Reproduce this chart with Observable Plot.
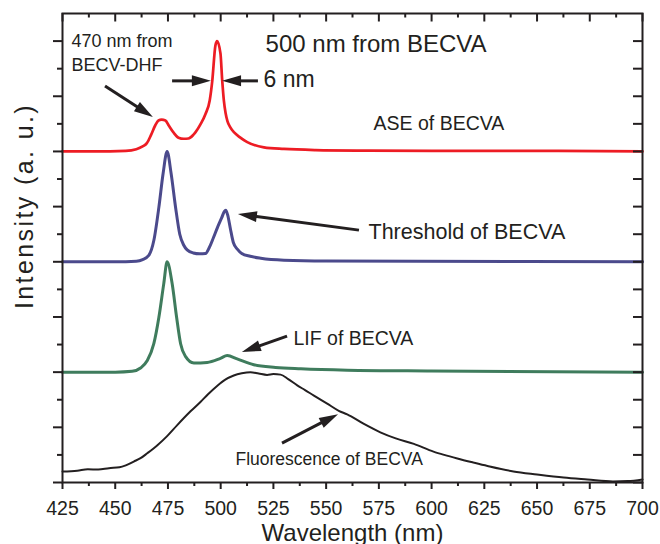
<!DOCTYPE html>
<html><head><meta charset="utf-8">
<script src="https://cdn.jsdelivr.net/npm/d3@7"></script>
<script src="https://cdn.jsdelivr.net/npm/@observablehq/plot@0.6"></script>
<style>body{margin:0;background:#fff;}</style>
</head><body><div id="chart"></div>
<script>
// ---- data (wavelength in nm, intensity in offset arbitrary units) ----
const aseWl = [425,440,455,460,463,465,467,469,470.5,472,473.8,475.3,477.6,480,482.5,484.7,487,488.1,490.4,492.8,494.8,496,497.5,498.3,499.9,500.7,501.5,502.3,503.2,504.5,506.5,509,512.6,520.5,530,545,570,600,650,700];
const aseI  = [12.0,12.0,12.02,12.08,12.18,12.3,12.6,12.95,13.12,13.15,13.12,12.95,12.69,12.5,12.46,12.47,12.6,12.7,12.98,13.36,13.85,14.55,15.84,16.0,15.55,14.6,13.85,13.4,13.1,12.88,12.68,12.52,12.34,12.15,12.09,12.05,12.03,12.02,12.02,12.0];

const thrWl = [425,450,460,463,465.9,468.3,470.7,472.7,474.6,476.5,478.6,480.6,482.5,484.1,487,490,492.8,494.5,496.6,498.5,500.5,501.7,502.4,503.3,504.6,506,508,510,514,519,530,550,700];
const thrI  = [8.0,8.0,8.02,8.08,8.23,8.77,9.98,11.2,12.0,11.2,9.98,9.0,8.6,8.43,8.32,8.29,8.3,8.5,8.88,9.25,9.6,9.82,9.87,9.7,9.2,8.7,8.45,8.3,8.2,8.13,8.06,8.03,8.0];

const lifWl = [425,450,458,462,465.2,468.3,470.7,473,474.6,477,479.1,481,483.3,487.3,493.6,499.9,503.1,507.8,515.7,526,538,560,600,700];
const lifI  = [4.0,4.0,4.03,4.15,4.42,5.03,5.99,7.2,8.0,7.2,5.99,5.03,4.57,4.33,4.35,4.5,4.6,4.48,4.27,4.17,4.12,4.07,4.04,4.0];

const fluWl = [425,432,437,442,447,452,455,458.8,462,465.2,470,474.6,479.4,485.7,490.4,494,498.3,502,506.2,510,514.1,518,522,525,528.4,532,536.3,540,544.2,550.5,556,560,567.7,575.7,583,591.6,600.9,606,612.2,620,626.5,638.8,650,662.6,673.9,686,693,700];
const fluI  = [0.4,0.43,0.48,0.47,0.52,0.55,0.62,0.76,0.88,1.06,1.35,1.68,2.08,2.58,2.92,3.2,3.5,3.72,3.88,3.96,4.0,3.95,3.9,3.93,3.91,3.75,3.52,3.35,3.15,2.86,2.6,2.47,2.13,1.82,1.6,1.4,1.12,1.0,0.87,0.72,0.6,0.4,0.29,0.18,0.11,0.04,0.05,0.11];

const xTicks = [425,450,475,500,525,550,575,600,625,650,675,700];
const xMinor = [437.5,462.5,487.5,512.5,537.5,562.5,587.5,612.5,637.5,662.5,687.5];
const yMajor = [0,2,4,6,8,10,12,14,16];
const yMinor = [1,3,5,7,9,11,13,15];
const yAll = [0,1,2,3,4,5,6,7,8,9,10,11,12,13,14,15,16];

const noteText = ["470 nm from","BECV-DHF","500 nm from BECVA","6 nm","ASE of BECVA","Threshold of BECVA","LIF of BECVA","Fluorescence of BECVA"];
const noteWl   = [429.3,429.3,521.3,520.3,572.5,570.1,534.5,507.0];
const noteVal  = [15.77,14.93,15.59,14.32,12.76,8.84,5.0,0.62];

const arrowWl1  = [445.4,477.2,517.9,565.8,531.7,529.3];
const arrowVal1 = [14.35,14.54,14.54,9.13,5.29,1.41];
const arrowWl2  = [468.1,495.6,500.9,508.4,510.3,555.9];
const arrowVal2 = [13.23,14.54,14.54,9.71,4.71,2.46];

const xLabel = "Wavelength (nm)";
const yLabel = "Intensity (a. u.)";

// ---- build ----
const ink = "#231f20";
const font = "'Liberation Sans', Arial, Helvetica, sans-serif";
const pts = (wl, v) => wl.map((w, i) => ({wl: w, v: v[i]}));
const notes = noteText.map((t, i) => ({t, wl: noteWl[i], v: noteVal[i]}));
const noteSizes = [18, 18, 24, 23, 19.5, 21.5, 19.5, 17.5];
const arrows = arrowWl1.map((w, i) => ({x1: w, y1: arrowVal1[i], x2: arrowWl2[i], y2: arrowVal2[i]}));

const W = 660, H = 544, mL = 62, mR = 18, mT = 13, mB = 62;
const innerW = W - mL - mR, innerH = H - mT - mB;

const arrowMark = (index, scales) => {
  const g = d3.create("svg:g");
  for (const a of arrows) {
    const x1 = scales.x(a.x1), y1 = scales.y(a.y1), x2 = scales.x(a.x2), y2 = scales.y(a.y2);
    const ang = Math.atan2(y2 - y1, x2 - x1), L = 19, hw = 5.5;
    const c = Math.cos(ang), s = Math.sin(ang);
    const bx = x2 - L * c, by = y2 - L * s;
    g.append("line").attr("x1", x1).attr("y1", y1).attr("x2", bx + 2 * c).attr("y2", by + 2 * s)
      .attr("stroke", ink).attr("stroke-width", 3);
    g.append("path").attr("d", `M${x2},${y2}L${bx - hw * s},${by + hw * c}L${bx + hw * s},${by - hw * c}Z`)
      .attr("fill", ink);
  }
  return g.node();
};

const chart = Plot.plot({
  width: W, height: H,
  marginLeft: mL, marginRight: mR, marginTop: mT, marginBottom: mB,
  style: {fontFamily: font, background: "#fff", color: ink, overflow: "visible"},
  x: {domain: [425, 700]},
  y: {domain: [0, 17]},
  marks: [
    Plot.line(pts(fluWl, fluI), {x: "wl", y: "v", stroke: ink, strokeWidth: 2, curve: "monotone-x"}),
    Plot.line(pts(lifWl, lifI), {x: "wl", y: "v", stroke: "#3f7c5d", strokeWidth: 3, curve: "monotone-x"}),
    Plot.line(pts(thrWl, thrI), {x: "wl", y: "v", stroke: "#4b4a8c", strokeWidth: 3, curve: "monotone-x"}),
    Plot.line(pts(aseWl, aseI), {x: "wl", y: "v", stroke: "#ed1c24", strokeWidth: 2.7, curve: "monotone-x"}),
    Plot.axisX({ticks: xTicks, tickSize: 7, tickPadding: 12, fontSize: 19.5, strokeWidth: 2, label: null, tickFormat: d => String(d), fill: ink}),
    Plot.axisX({ticks: xMinor, tickSize: 4, strokeWidth: 2, label: null, tickFormat: () => ""}),
    Plot.axisY({ticks: yMajor, tickSize: 9, strokeWidth: 2, label: null, tickFormat: () => ""}),
    Plot.axisY({ticks: yMinor, tickSize: 5, strokeWidth: 2, label: null, tickFormat: () => ""}),
    Plot.tickX(xTicks, {x: d => d, stroke: ink, strokeWidth: 2, insetBottom: innerH - 8.5}),
    Plot.tickX(xMinor, {x: d => d, stroke: ink, strokeWidth: 2, insetBottom: innerH - 4.5}),
    Plot.tickY(yAll, {y: d => d, stroke: ink, strokeWidth: 2, insetLeft: innerW - 9}),
    Plot.frame({stroke: ink, strokeWidth: 2}),
    arrowMark,
    Plot.text(notes, {x: "wl", y: "v", text: "t", textAnchor: "start", lineAnchor: "bottom",
      fontSize: (d, i) => noteSizes[i], fill: ink}),
    Plot.text([xLabel], {frameAnchor: "bottom", textAnchor: "middle", dy: 58, lineAnchor: "bottom", fontSize: 24, fill: ink}),
    Plot.text([yLabel], {frameAnchor: "left", textAnchor: "middle", dx: -30, dy: -42, rotate: -90, lineAnchor: "bottom", fontSize: 25, fill: ink})
  ]
});
d3.select(chart).selectAll("text").filter(function() { return this.textContent === yLabel; })
  .style("letter-spacing", "2.4px");
document.getElementById("chart").appendChild(chart);
</script>
</body></html>
